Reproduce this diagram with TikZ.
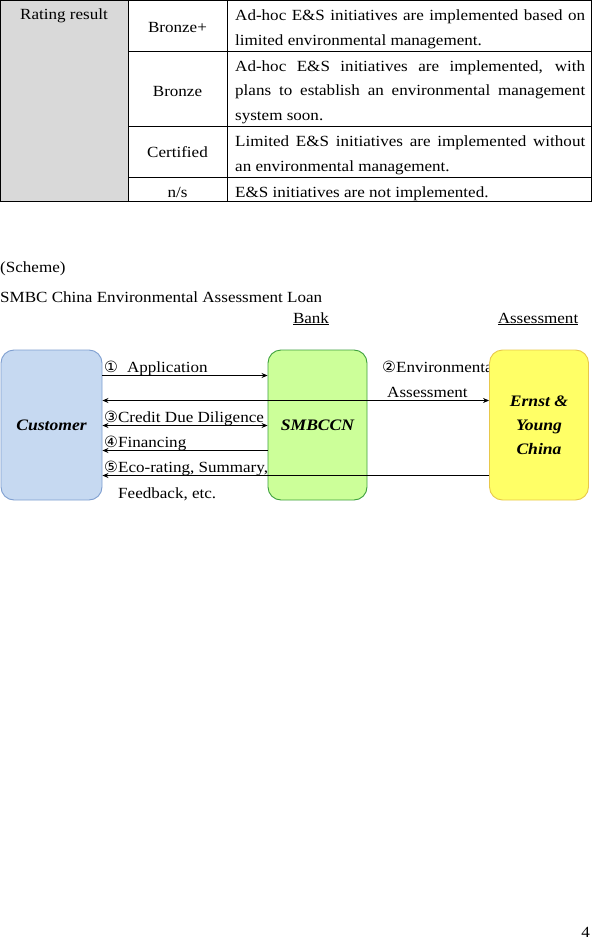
\documentclass[tikz,border=0pt]{standalone}
\usepackage{fontspec}
\setmainfont{Liberation Serif}[FakeStretch=1.1]
\newfontfamily\symfont{DejaVu Sans}
\usetikzlibrary{arrows.meta}
\definecolor{cellgray}{HTML}{D9D9D9}
\definecolor{custfill}{HTML}{C6D9F1}
\definecolor{custdraw}{HTML}{7F9FD0}
\definecolor{bankfill}{HTML}{CCFF99}
\definecolor{bankdraw}{HTML}{3CA03C}
\definecolor{eyfill}{HTML}{FFFF66}
\definecolor{eydraw}{HTML}{E8C84A}
\newcommand{\cnum}[1]{{\symfont\fontsize{15.5}{16}\selectfont #1}}
\begin{document}
\begin{tikzpicture}[x=1pt,y=-1pt,
  font=\fontsize{15.5}{18}\selectfont,
  txt/.style={inner sep=0pt, anchor=base west},
  ctxt/.style={inner sep=0pt, anchor=base},
  grid/.style={line width=0.8pt, draw=black},
  party/.style={rounded corners=13pt, line width=0.9pt, minimum width=100pt, minimum height=150pt, align=center, font=\fontsize{16}{24}\selectfont\bfseries\itshape},
  flow/.style={-{Stealth[length=6pt,width=5pt]}, line width=0.8pt},
  flowboth/.style={{Stealth[length=6pt,width=5pt]}-{Stealth[length=6pt,width=5pt]}, line width=0.8pt}]
\useasboundingbox (0,0) rectangle (592,941);
% ---------- table ----------
\fill[cellgray] (0,0) rectangle (128,202);
\draw[grid] (0.4,0.4) rectangle (591.4,201.6);
\draw[grid] (128,0) -- (128,202) (227,0) -- (227,202);
\draw[grid] (128,51.7) -- (591.4,51.7) (128,126.7) -- (591.4,126.7) (128,177.3) -- (591.4,177.3);
\node[ctxt] (rr) at (64,20) {Rating result};
\node[ctxt] (bp) at (177.5,33) {Bronze+};
\node[ctxt] (bz) at (177.5,97) {Bronze};
\node[ctxt] (cf) at (177.5,158) {Certified};
\node[ctxt] (ns) at (177.5,198) {n/s};
\node[txt] (d1a) at (235,21) {\makebox[350pt][s]{Ad-hoc E\&S initiatives are implemented based on}};
\node[txt] (d1b) at (235,45.5) {limited environmental management.};
\node[txt] (d2a) at (235,72) {\makebox[350pt][s]{Ad-hoc E\&S initiatives are implemented, with}};
\node[txt] (d2b) at (235,96) {\makebox[350pt][s]{plans to establish an environmental management}};
\node[txt] (d2c) at (235,120.5) {system soon.};
\node[txt] (d3a) at (235,147) {\makebox[350pt][s]{Limited E\&S initiatives are implemented without}};
\node[txt] (d3b) at (235,171.5) {an environmental management.};
\node[txt] (d4a) at (235,198) {E\&S initiatives are not implemented.};
% ---------- scheme ----------
\node[txt] (sch) at (0,272) {(Scheme)};
\node[txt] (ttl) at (0,302) {SMBC China Environmental Assessment Loan};
\node[ctxt] (hbank) at (311,323) {\underline{Bank}};
\node[ctxt] (hass) at (538,323) {\underline{Assessment}};
% label partly hidden by the assessor box
\node[txt] (l2a) at (382,372) {\cnum{②}Environmental};
\node[txt] (l2b) at (387,397) {Assessment};
% parties
\node[party, fill=custfill, draw=custdraw, minimum width=101pt] (cust) at (51.5,425) {Customer};
\node[party, fill=bankfill, draw=bankdraw, minimum width=99pt] (bank) at (317.5,425) {SMBCCN};
\node[party, fill=eyfill, draw=eydraw, minimum width=99pt] (ey) at (539,425) {Ernst \&\\Young\\China};
% levels
\coordinate (y1) at (0,375.5);
\coordinate (y2) at (0,400.5);
\coordinate (y3) at (0,425.5);
\coordinate (y4) at (0,450.5);
\coordinate (y5) at (0,475.5);
% flow labels
\node[txt] (l1) at (104,372) {\cnum{①}\hspace{9pt}Application};
\node[txt] (l3) at (104,422) {\cnum{③}Credit Due Diligence};
\node[txt] (l4) at (104,447) {\cnum{④}Financing};
\node[txt] (l5a) at (104,472) {\cnum{⑤}Eco-rating, Summary,};
\node[txt] (l5b) at (118,498) {Feedback, etc.};
% connectors
\draw[flow] (cust.east |- y1) -- (bank.west |- y1);
\draw[flowboth] (cust.east |- y2) -- (ey.west |- y2);
\draw[flowboth] (cust.east |- y3) -- (bank.west |- y3);
\draw[flow] (bank.west |- y4) -- (cust.east |- y4);
\draw[flow] (ey.west |- y5) -- (cust.east |- y5);
% page number
\node[inner sep=0pt, anchor=base east] (pg) at (590,937) {4};
\end{tikzpicture}
\end{document}
